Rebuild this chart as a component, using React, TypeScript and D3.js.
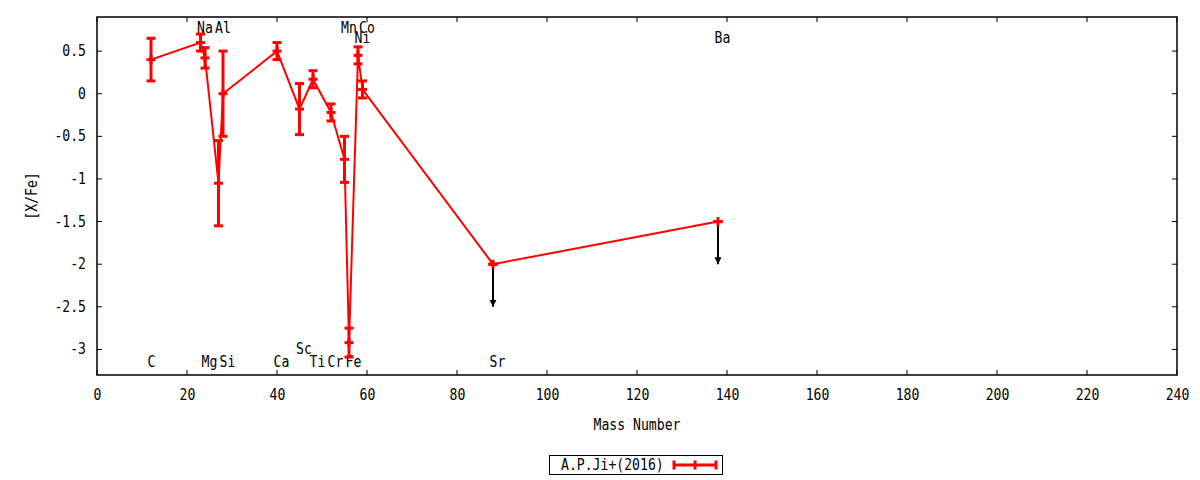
import React from 'react';
import * as d3 from 'd3';

const elements = ['C', 'Na', 'Mg', 'Al', 'Si', 'Ca', 'Sc', 'Ti', 'Cr', 'Mn', 'Fe', 'Ni', 'Co', 'Sr', 'Ba'];
const massNumbers = [12, 23, 24, 27, 28, 40, 45, 48, 52, 55, 56, 58, 59, 88, 138];
const abundances = [0.4, 0.6, 0.42, -1.05, 0.0, 0.5, -0.18, 0.17, -0.22, -0.77, -2.92, 0.45, 0.05, -2.0, -1.5];
const errors = [0.25, 0.1, 0.12, 0.5, 0.5, 0.1, 0.3, 0.1, 0.1, 0.27, 0.17, 0.1, 0.1, 0, 0];
const upperLimits = ['Sr', 'Ba'];

// element labels: name, mass, y position
const labelNames = ['Na', 'Al', 'Mn', 'Co', 'Ni', 'Ba', 'C', 'Mg', 'Si', 'Ca', 'Ti', 'Cr', 'Fe', 'Sr', 'Sc'];
const labelMass = [23, 27, 55, 59, 58, 138, 12, 24, 28, 40, 48, 52, 56, 88, 45];
const labelY = [0.77, 0.77, 0.77, 0.77, 0.65, 0.65, -3.15, -3.15, -3.15, -3.15, -3.15, -3.15, -3.15, -3.15, -3.0];

const xTicks = d3.range(0, 241, 20);
const yTicks = [-3, -2.5, -2, -1.5, -1, -0.5, 0, 0.5];
const legendLabel = 'A.P.Ji+(2016)';

const W = 1200;
const H = 480;
const margin = { left: 97, right: 23, top: 17, bottom: 105 };
const FONT = 'DejaVu Sans Mono';
const CW = 7.9;

const T: React.FC<{ x: number; y: number; s: string; anchor?: string; rotate?: boolean }> = ({ x, y, s, anchor = 'start', rotate }) => (
  <text
    x={x}
    y={y}
    fontFamily={FONT}
    fontSize={15.5}
    textAnchor={anchor}
    dominantBaseline="central"
    textLength={s.length * CW}
    lengthAdjust="spacingAndGlyphs"
    transform={rotate ? `rotate(-90,${x},${y})` : undefined}
    fill="#000"
  >
    {s}
  </text>
);

const App: React.FC = () => {
  const x = d3.scaleLinear().domain([0, 240]).range([margin.left, W - margin.right]);
  const y = d3.scaleLinear().domain([-3.3, 0.9]).range([H - margin.bottom, margin.top]);
  const [x0, x1] = x.range();
  const [y0, y1] = y.range();

  const pts = massNumbers.map((m, i) => ({ m, v: abundances[i], e: errors[i], name: elements[i] }));
  const line = d3
    .line<(typeof pts)[number]>()
    .x((d) => x(d.m))
    .y((d) => y(d.v));

  const cap = 4.5;
  const fmt = (v: number) => String(v);

  return (
    <div style={{ position: 'absolute', left: 0, top: 0 }}>
      <svg width={W} height={H} viewBox={`0 0 ${W} ${H}`} style={{ display: 'block', background: '#fff' }}>
        <defs>
          <marker id="ah" viewBox="0 0 10 10" refX="10" refY="5" markerWidth="3.5" markerHeight="4.5" orient="auto" markerUnits="strokeWidth">
            <path d="M0,0 L10,5 L0,10 z" fill="#000" />
          </marker>
        </defs>

        {/* frame */}
        <rect x={x0} y={y1} width={x1 - x0} height={y0 - y1} fill="none" stroke="#000" strokeWidth={1.5} />

        {/* x ticks */}
        {xTicks.map((t) => (
          <g key={`x${t}`}>
            <line x1={x(t)} x2={x(t)} y1={y0} y2={y0 - 5} stroke="#000" strokeWidth={1} />
            <line x1={x(t)} x2={x(t)} y1={y1} y2={y1 + 5} stroke="#000" strokeWidth={1} />
            <T x={x(t) + 0.5} y={y0 + 20} s={fmt(t)} anchor="middle" />
          </g>
        ))}

        {/* y ticks */}
        {yTicks.map((t) => (
          <g key={`y${t}`}>
            <line x1={x0} x2={x0 + 5} y1={y(t)} y2={y(t)} stroke="#000" strokeWidth={1} />
            <line x1={x1} x2={x1 - 5} y1={y(t)} y2={y(t)} stroke="#000" strokeWidth={1} />
            <T x={x0 - 11} y={y(t)} s={fmt(t)} anchor="end" />
          </g>
        ))}

        <T x={(x0 + x1) / 2} y={425} s="Mass Number" anchor="middle" />
        <T x={32} y={(y0 + y1) / 2} s="[X/Fe]" anchor="middle" rotate />

        {/* element labels */}
        {labelNames.map((n, i) => (
          <T key={n} x={x(labelMass[i]) - 3.5} y={y(labelY[i])} s={n} />
        ))}

        {/* data line */}
        <path d={line(pts) ?? ''} fill="none" stroke="#f00" strokeWidth={2} />

        {/* upper limit arrows */}
        {pts
          .filter((d) => upperLimits.includes(d.name))
          .map((d) => (
            <line
              key={`a${d.name}`}
              x1={x(d.m)}
              x2={x(d.m)}
              y1={y(d.v)}
              y2={y(d.v - 0.5)}
              stroke="#000"
              strokeWidth={2}
              markerEnd="url(#ah)"
            />
          ))}

        {/* error bars + points */}
        <g stroke="#f00" strokeWidth={3} fill="none">
          {pts.map((d) => {
            const cx = x(d.m);
            const top = y(d.v + d.e);
            const bot = y(d.v - d.e);
            const cy = y(d.v);
            return (
              <g key={`e${d.name}`}>
                <line x1={cx} x2={cx} y1={top} y2={bot} />
                <line x1={cx - cap} x2={cx + cap} y1={top} y2={top} />
                <line x1={cx - cap} x2={cx + cap} y1={bot} y2={bot} />
                <line x1={cx - cap} x2={cx + cap} y1={cy} y2={cy} />
                <line x1={cx} x2={cx} y1={cy - cap} y2={cy + cap} />
              </g>
            );
          })}
        </g>

        {/* legend */}
        <rect x={549.5} y={455.5} width={173} height={19} fill="#fff" stroke="#000" strokeWidth={1} />
        <T x={561} y={465} s={legendLabel} />
        <g stroke="#f00" strokeWidth={3}>
          <line x1={674} x2={716} y1={465} y2={465} />
          <line x1={674} x2={674} y1={465 - cap} y2={465 + cap} />
          <line x1={716} x2={716} y1={465 - cap} y2={465 + cap} />
          <line x1={695} x2={695} y1={465 - cap} y2={465 + cap} />
        </g>
      </svg>
    </div>
  );
};

export default App;
